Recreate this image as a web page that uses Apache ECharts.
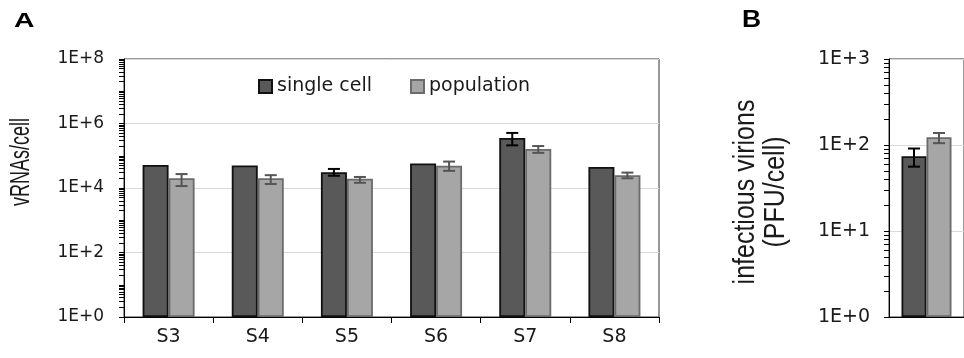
<!DOCTYPE html>
<html><head><meta charset="utf-8">
<script src="https://cdn.jsdelivr.net/npm/echarts@6/dist/echarts.min.js"></script>
<style>html,body{margin:0;padding:0;background:#fff}#c{width:964px;height:358px}</style>
</head><body><div id="c"></div>
<script>
// ---- data ----
const categoriesA = ['S3', 'S4', 'S5', 'S6', 'S7', 'S8'];
const singleCellA = [5.2e4, 5.0e4, 3.1e4, 5.8e4, 3.55e5, 4.5e4];
const singleCellErrLowA = [null, null, 2.4e4, null, 2.1e5, null];
const singleCellErrHighA = [null, null, 3.9e4, null, 5.1e5, null];
const populationA = [2.0e4, 2.0e4, 1.94e4, 4.9e4, 1.62e5, 2.5e4];
const populationErrLowA = [1.15e4, 1.33e4, 1.45e4, 3.4e4, 1.23e5, 2.0e4];
const populationErrHighA = [2.7e4, 2.5e4, 2.2e4, 6.6e4, 2.0e5, 3.0e4];

const categoriesB = [''];
const singleCellB = [74];
const singleCellErrLowB = [56];
const singleCellErrHighB = [91];
const populationB = [123];
const populationErrLowB = [105];
const populationErrHighB = [138];

const yTickLabelsA = ['1E+0', '1E+2', '1E+4', '1E+6', '1E+8'];
const yTickLabelsB = ['1E+0', '1E+1', '1E+2', '1E+3'];
const seriesNames = ['single cell', 'population'];
const titleA = 'vRNAs/cell';
const titleB = 'infectious virions\n(PFU/cell)';

// ---- helpers ----
const BAR_W_A = 26, BAR_W_B = 25, CAP = 12;
const TXT = '#1a1a1a';
const DV = '"DejaVu Sans", sans-serif';

function logTickPositions(maxExp) {
  const out = [];
  for (let k = 0; k < maxExp; k++) for (let m = 1; m <= 9; m++) out.push(k + Math.log10(m));
  out.push(maxExp);
  return out;
}
function errData(cats, lo, hi) {
  const d = [];
  cats.forEach((c, i) => { if (lo[i] != null && hi[i] != null) d.push([c, lo[i], hi[i]]); });
  return d;
}
function errRender(sign, barW, color) {
  return function (params, api) {
    const x = api.value(0);
    const pLo = api.coord([x, api.value(1)]);
    const pHi = api.coord([x, api.value(2)]);
    const cx = pLo[0] + sign * barW / 2;
    const h = CAP / 2;
    const st = { stroke: color, lineWidth: 2 };
    return { type: 'group', children: [
      { type: 'line', shape: { x1: cx, y1: pLo[1], x2: cx, y2: pHi[1] }, style: st },
      { type: 'line', shape: { x1: cx - h, y1: pHi[1], x2: cx + h, y2: pHi[1] }, style: st },
      { type: 'line', shape: { x1: cx - h, y1: pLo[1], x2: cx + h, y2: pLo[1] }, style: st }
    ]};
  };
}
const singleStyle = { color: '#595959', borderColor: '#111111', borderWidth: 1.8 };
const popStyle = { color: '#a6a6a6', borderColor: '#6b6b6b', borderWidth: 1.8 };

function mainLogAxis(grid, maxV, interval, labels, margin, fontSize) {
  return {
    type: 'log', logBase: 10, gridIndex: grid, position: 'left', min: 1, max: maxV, interval: interval,
    axisLine: { show: true, lineStyle: { color: '#000', width: 1 } },
    axisTick: { show: false },
    axisLabel: { margin: margin, color: TXT, fontFamily: DV, fontSize: fontSize,
      formatter: v => labels[Math.round(Math.log10(v) / interval)] },
    splitLine: { show: true, lineStyle: { color: '#d9d9d9', width: 1 } }
  };
}
function tickOverlayAxis(grid, maxExp) {
  return {
    type: 'value', gridIndex: grid, position: 'left', min: 0, max: maxExp,
    axisLine: { show: false }, axisLabel: { show: false }, splitLine: { show: false },
    axisTick: { show: true, length: 5, customValues: logTickPositions(maxExp), lineStyle: { color: '#000', width: 1 } }
  };
}

const chart = echarts.init(document.getElementById('c'), null, { renderer: 'canvas' });
chart.setOption({
  backgroundColor: '#fff',
  animation: false,
  grid: [
    { left: 124, top: 59, right: 305, bottom: 41, show: true, borderColor: '#333', borderWidth: 1, containLabel: false },
    { left: 889, top: 59, width: 85, bottom: 41, show: true, borderColor: '#333', borderWidth: 1, containLabel: false }
  ],
  legend: {
    data: seriesNames, left: 258, top: 77, padding: 0, icon: 'rect', itemWidth: 13, itemHeight: 13, itemGap: 38,
    textStyle: { color: TXT, fontFamily: DV, fontSize: 19 }
  },
  xAxis: [
    { type: 'category', gridIndex: 0, data: categoriesA, boundaryGap: true,
      axisLine: { lineStyle: { color: '#000', width: 1 } },
      axisTick: { show: true, length: 6, alignWithLabel: false, lineStyle: { color: '#000' } },
      axisLabel: { margin: 11, color: TXT, fontFamily: DV, fontSize: 19 } },
    { type: 'category', gridIndex: 1, data: categoriesB, boundaryGap: true,
      axisLine: { lineStyle: { color: '#000', width: 1 } },
      axisTick: { show: false }, axisLabel: { show: false } }
  ],
  yAxis: [
    mainLogAxis(0, 1e8, 2, yTickLabelsA, 20, 17),
    tickOverlayAxis(0, 8),
    mainLogAxis(1, 1e3, 1, yTickLabelsB, 19, 19),
    tickOverlayAxis(1, 3)
  ],
  series: [
    { name: seriesNames[0], type: 'bar', xAxisIndex: 0, yAxisIndex: 0, data: singleCellA, barWidth: BAR_W_A, barGap: '0%', itemStyle: singleStyle, z: 2 },
    { name: seriesNames[1], type: 'bar', xAxisIndex: 0, yAxisIndex: 0, data: populationA, barWidth: BAR_W_A, barGap: '0%', itemStyle: popStyle, z: 2 },
    { type: 'custom', xAxisIndex: 0, yAxisIndex: 0, data: errData(categoriesA, singleCellErrLowA, singleCellErrHighA),
      renderItem: errRender(-1, BAR_W_A, '#000'), z: 5, silent: true },
    { type: 'custom', xAxisIndex: 0, yAxisIndex: 0, data: errData(categoriesA, populationErrLowA, populationErrHighA),
      renderItem: errRender(1, BAR_W_A, '#555'), z: 5, silent: true },
    { name: seriesNames[0], type: 'bar', xAxisIndex: 1, yAxisIndex: 2, data: singleCellB, barWidth: BAR_W_B, barGap: '0%', itemStyle: singleStyle, z: 2 },
    { name: seriesNames[1], type: 'bar', xAxisIndex: 1, yAxisIndex: 2, data: populationB, barWidth: BAR_W_B, barGap: '0%', itemStyle: popStyle, z: 2 },
    { type: 'custom', xAxisIndex: 1, yAxisIndex: 2, data: errData(categoriesB, singleCellErrLowB, singleCellErrHighB),
      renderItem: errRender(-1, BAR_W_B, '#000'), z: 5, silent: true },
    { type: 'custom', xAxisIndex: 1, yAxisIndex: 2, data: errData(categoriesB, populationErrLowB, populationErrHighB),
      renderItem: errRender(1, BAR_W_B, '#555'), z: 5, silent: true }
  ],
  graphic: [
    { type: 'text', x: 14, y: 11, scaleX: 1.35, style: { text: 'A', font: 'bold 21px "Liberation Sans", Arial, sans-serif', fill: '#000' } },
    { type: 'text', x: 742, y: 9, scaleX: 1.15, style: { text: 'B', font: 'bold 23px "Liberation Sans", Arial, sans-serif', fill: '#000' } },
    { type: 'text', x: 22, y: 162, rotation: Math.PI / 2, scaleY: 1.5,
      style: { text: titleA, font: '18px "Liberation Sans", Arial, sans-serif', fill: TXT,
        textAlign: 'center', textVerticalAlign: 'middle', align: 'center', verticalAlign: 'middle' } },
    { type: 'text', x: 761, y: 192, rotation: Math.PI / 2, scaleY: 1.15,
      style: { text: titleB, font: '25px "Liberation Sans", Arial, sans-serif', fill: TXT, lineHeight: 26,
        textAlign: 'center', textVerticalAlign: 'middle', align: 'center', verticalAlign: 'middle' } }
  ]
});
</script>
</body></html>
